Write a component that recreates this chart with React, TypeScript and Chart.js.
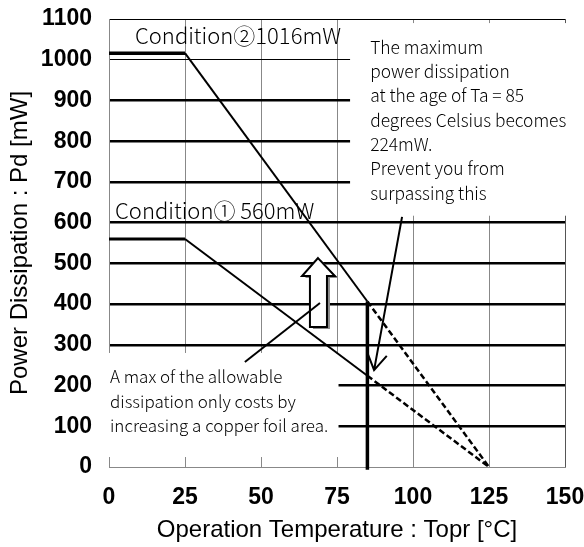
import React, { useEffect, useRef } from "react";
import { Chart, registerables } from "chart.js";

Chart.register(...registerables);

// ---- data ----
const xTicks = [0, 25, 50, 75, 100, 125, 150];
const yTicks = [0, 100, 200, 300, 400, 500, 600, 700, 800, 900, 1000, 1100];
const tempPoints = [0, 25, 85, 125]; // Topr [°C]
const cond2Pd = [1016, 1016, 406.4, 0]; // Condition② [mW]
const cond1Pd = [560, 560, 224, 0]; // Condition① [mW]
const limitTemp = [85, 85];
const limitPd = [-7, 406.4];

const xTitle = "Operation Temperature : Topr [°C]";
const yTitle = "Power Dissipation : Pd [mW]";
const cond2Label = "Condition②1016mW";
const cond1Label = "Condition① 560mW";
const noteRight = [
  "The maximum",
  "power dissipation",
  "at the age of Ta = 85",
  "degrees Celsius becomes",
  "224mW.",
  "Prevent you from",
  "surpassing this",
];
const noteLeft = [
  "A max of the allowable",
  "dissipation only costs by",
  "increasing a copper foil area.",
];

// ---- annotation geometry in data coordinates ----
const whiteBoxes = [
  { x0: 79.3, x1: 153, y0: 1090, y1: 617 },
  { x0: -2, x1: 75.5, y0: 280, y1: 24.5 },
];
const arrowPointer = { from: [96.4, 614], to: [87.2, 238] };
const arrowLink = { from: [44.7, 258], to: [69.4, 402.6] };
const blockArrow = {
  tipX: 68.75, tipY: 513, headY: 469, headL: 63.5, headR: 74.3,
  shaftL: 66.1, shaftR: 71.7, bottomY: 343.7,
};
const labelPos = {
  cond2: [8.55, 1058],
  cond1: [2.0, 628.6],
  right: [85.9, 1031],
  left: [0.33, 221],
};

const TICK_FONT = { family: '"Liberation Sans", Arial, sans-serif', size: 23, weight: "bold" as const };
const TITLE_FONT = { family: '"Liberation Sans", Arial, sans-serif', size: 24 };
const ANN_FAMILY = '"Noto Sans CJK JP", "Liberation Sans", sans-serif';

const seg = (xs: number[], ys: number[], a: number, b: number) =>
  xs.slice(a, b + 1).map((x, i) => ({ x, y: ys[a + i] }));

const annotationPlugin = {
  id: "annot",
  beforeDatasetsDraw(chart: any) {
    const { ctx, scales } = chart;
    const sx = scales.x, sy = scales.y;
    ctx.save();
    ctx.fillStyle = "#fff";
    for (const b of whiteBoxes) {
      const x0 = sx.getPixelForValue(b.x0), x1 = sx.getPixelForValue(b.x1);
      const y0 = sy.getPixelForValue(b.y0), y1 = sy.getPixelForValue(b.y1);
      ctx.fillRect(Math.min(x0, x1), Math.min(y0, y1), Math.abs(x1 - x0), Math.abs(y1 - y0));
    }
    ctx.restore();
  },
  afterDatasetsDraw(chart: any) {
    const { ctx, scales } = chart;
    const sx = scales.x, sy = scales.y;
    const px = (v: number) => sx.getPixelForValue(v);
    const py = (v: number) => sy.getPixelForValue(v);
    ctx.save();

    // block (hollow) arrow with shadow
    const ba = blockArrow;
    const poly = [
      [ba.tipX, ba.tipY], [ba.headR, ba.headY], [ba.shaftR, ba.headY], [ba.shaftR, ba.bottomY],
      [ba.shaftL, ba.bottomY], [ba.shaftL, ba.headY], [ba.headL, ba.headY],
    ];
    const drawPoly = (dx: number, dy: number) => {
      ctx.beginPath();
      poly.forEach(([a, b], i) => {
        const X = px(a) + dx, Y = py(b) + dy;
        if (i === 0) ctx.moveTo(X, Y); else ctx.lineTo(X, Y);
      });
      ctx.closePath();
    };
    drawPoly(3, 2);
    ctx.fillStyle = "#8a8a8a";
    ctx.fill();
    drawPoly(0, 0);
    ctx.fillStyle = "#fff";
    ctx.fill();
    ctx.strokeStyle = "#000";
    ctx.lineWidth = 2;
    ctx.lineJoin = "miter";
    ctx.stroke();

    // connector line
    ctx.beginPath();
    ctx.lineWidth = 2;
    ctx.moveTo(px(arrowLink.from[0]), py(arrowLink.from[1]));
    ctx.lineTo(px(arrowLink.to[0]), py(arrowLink.to[1]));
    ctx.stroke();

    // pointer arrow with open head
    const fx = px(arrowPointer.from[0]), fy = py(arrowPointer.from[1]);
    const tx = px(arrowPointer.to[0]), ty = py(arrowPointer.to[1]);
    ctx.beginPath();
    ctx.moveTo(fx, fy);
    ctx.lineTo(tx, ty);
    const ang = Math.atan2(fy - ty, fx - tx);
    const L = 19, spread = 0.55;
    ctx.moveTo(tx + L * Math.cos(ang - spread), ty + L * Math.sin(ang - spread));
    ctx.lineTo(tx, ty);
    ctx.lineTo(tx + L * Math.cos(ang + spread), ty + L * Math.sin(ang + spread));
    ctx.stroke();

    // texts
    ctx.fillStyle = "#000";
    ctx.textBaseline = "middle";
    ctx.textAlign = "left";
    ctx.font = `300 22px ${ANN_FAMILY}`;
    ctx.fillText(cond2Label, px(labelPos.cond2[0]), py(labelPos.cond2[1]));
    ctx.fillText(cond1Label, px(labelPos.cond1[0]), py(labelPos.cond1[1]));

    ctx.font = `300 17.4px ${ANN_FAMILY}`;
    noteRight.forEach((t, i) => {
      ctx.fillText(t, px(labelPos.right[0]), py(labelPos.right[1]) + i * 24.3);
    });
    ctx.font = `300 17px ${ANN_FAMILY}`;
    noteLeft.forEach((t, i) => {
      ctx.fillText(t, px(labelPos.left[0]), py(labelPos.left[1]) + i * 24.3);
    });
    ctx.restore();
  },
};

export default function App() {
  const ref = useRef<HTMLCanvasElement | null>(null);
  useEffect(() => {
    if (!ref.current) return;
    const line = (data: any[], width: number, dash: number[] = []) => ({
      data,
      showLine: true,
      borderColor: "#000",
      backgroundColor: "#000",
      borderWidth: width,
      borderDash: dash,
      pointRadius: 0,
      fill: false,
      tension: 0,
    });
    const chart = new Chart(ref.current, {
      type: "scatter",
      data: {
        datasets: [
          line(seg(tempPoints, cond2Pd, 0, 1), 3.5),
          line(seg(tempPoints, cond2Pd, 1, 2), 2),
          line(seg(tempPoints, cond2Pd, 2, 3), 2.5, [6, 3]),
          line(seg(tempPoints, cond1Pd, 0, 1), 3),
          line(seg(tempPoints, cond1Pd, 1, 2), 2),
          line(seg(tempPoints, cond1Pd, 2, 3), 2.5, [6, 3]),
          { ...line(limitTemp.map((x, i) => ({ x, y: limitPd[i] })), 3.5), clip: false as any },
        ],
      },
      options: {
        animation: false,
        responsive: false,
        maintainAspectRatio: false,
        layout: { padding: { top: 19, right: 19, left: 0, bottom: 0 } },
        plugins: { legend: { display: false }, tooltip: { enabled: false } },
        scales: {
          x: {
            type: "linear",
            min: xTicks[0],
            max: xTicks[xTicks.length - 1],
            afterBuildTicks: (s: any) => { s.ticks = xTicks.map((v) => ({ value: v })); },
            afterFit: (s: any) => { s.height = 80; s.paddingLeft = 0; s.paddingRight = 0; },
            ticks: { color: "#000", font: TICK_FONT, padding: 17, maxRotation: 0, autoSkip: false, callback: (v: any) => String(v) },
            grid: {
              drawTicks: false,
              color: (c: any) => (c.tick && c.tick.value === 150 ? "#555" : "#888"),
              lineWidth: 1,
            },
            border: { display: true, color: "#888", width: 1 },
            title: { display: true, text: xTitle, color: "#000", font: TITLE_FONT, padding: { top: 0, bottom: 2 } },
          },
          y: {
            type: "linear",
            min: yTicks[0],
            max: yTicks[yTicks.length - 1],
            afterBuildTicks: (s: any) => { s.ticks = yTicks.map((v) => ({ value: v })); },
            afterFit: (s: any) => { s.width = 109; s.paddingTop = 0; s.paddingBottom = 0; },
            ticks: { color: "#000", font: TICK_FONT, padding: 17, autoSkip: false, callback: (v: any) => String(v) },
            grid: {
              drawTicks: false,
              color: (c: any) => (c.tick && c.tick.value === 0 ? "#888" : "#000"),
              lineWidth: (c: any) => {
                const v = c.tick ? c.tick.value : 0;
                return v === 0 || v === 1000 || v === 1100 ? 1 : 2.5;
              },
            },
            border: { display: true, color: "#888", width: 1 },
            title: { display: true, text: yTitle, color: "#000", font: TITLE_FONT, padding: { top: 6, bottom: 0 } },
          },
        },
      } as any,
      plugins: [annotationPlugin],
    });
    return () => chart.destroy();
  }, []);
  return (
    <div style={{ position: "absolute", left: 0, top: 0, width: 584, height: 547, background: "#fff" }}>
      <canvas ref={ref} width={584} height={547} style={{ display: "block", width: 584, height: 547 }} />
    </div>
  );
}
